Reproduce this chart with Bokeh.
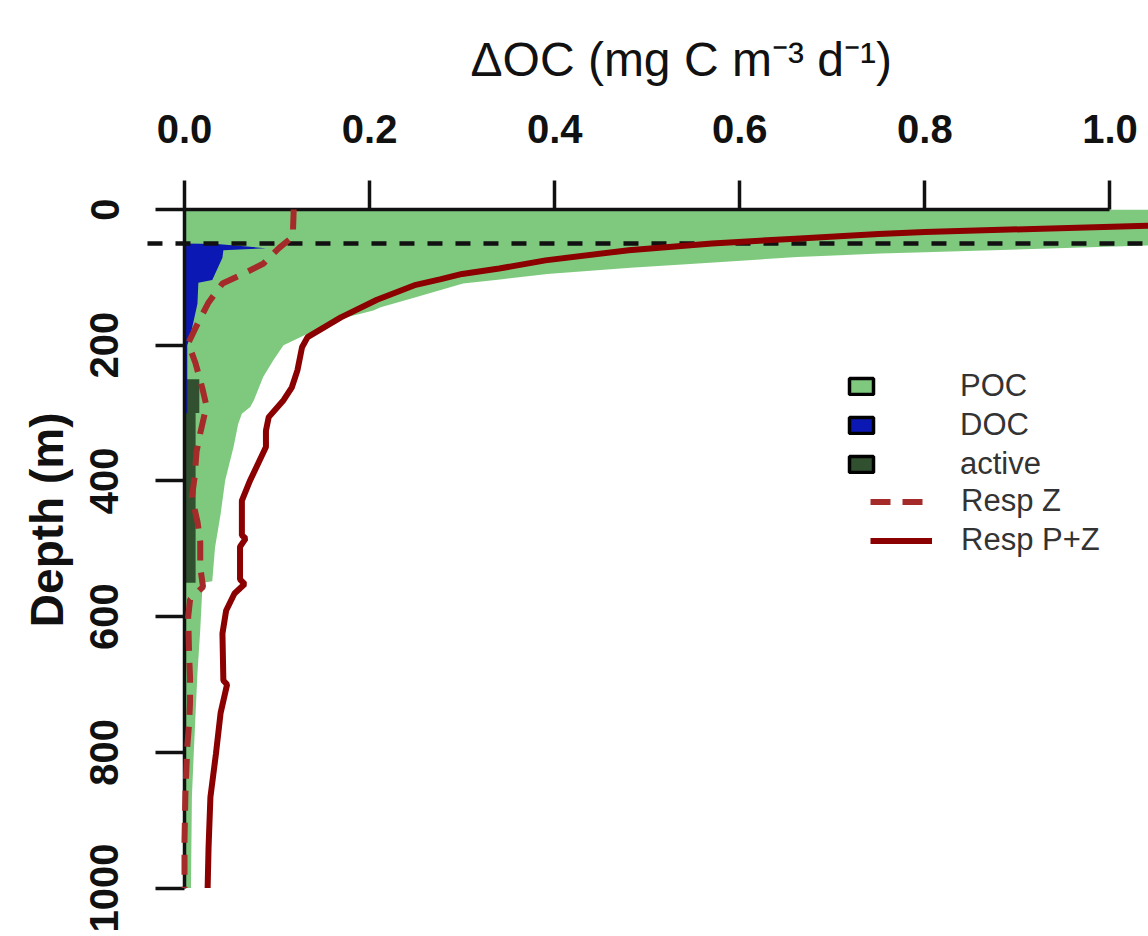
from bokeh.plotting import figure
from bokeh.models import (Range1d, FixedTicker, PrintfTickFormatter, Legend,
                          LegendItem, Title)
from bokeh.embed import file_html
from bokeh.resources import INLINE

# ---- depth profiles of organic-carbon loss (mg C m^-3 d^-1) -----------------
poc_depth = [0, 53, 63, 65, 70, 78, 86, 95, 103, 109, 130, 144, 149, 161, 183,
             200, 222, 247, 281, 291, 301, 316, 350, 399, 449, 498, 548, 550,
             566, 620, 684, 742, 802, 866, 1000]
poc_rate = [1.3, 1.04, 0.80, 0.752, 0.662, 0.572, 0.482, 0.392, 0.341, 0.301,
            0.248, 0.212, 0.204, 0.169, 0.133, 0.107, 0.096, 0.085, 0.075,
            0.071, 0.062, 0.058, 0.053, 0.044, 0.039, 0.033, 0.030, 0.020,
            0.019, 0.017, 0.014, 0.012, 0.010, 0.008, 0.007]

doc_depth = [50, 51, 57, 60, 71, 104, 108, 139, 188, 200, 300, 301]
doc_rate = [0.0, 0.035, 0.088, 0.042, 0.041, 0.030, 0.015, 0.014, 0.006,
            0.003, 0.003, 0.0]

active_depth = [250, 250, 300, 300, 550, 550]
active_rate = [0.0, 0.016, 0.016, 0.012, 0.012, 0.0]

respz_depth = [0, 40, 57, 80, 97, 109, 137, 166, 197, 227, 262, 291, 300, 330,
               357, 394, 424, 460, 490, 527, 556, 575, 600, 657, 690, 726, 757,
               792, 826, 860, 930, 1000]
respz_rate = [0.118, 0.117, 0.102, 0.085, 0.060, 0.041, 0.026, 0.015, 0.004,
              0.012, 0.019, 0.024, 0.022, 0.017, 0.013, 0.011, 0.008, 0.014,
              0.017, 0.017, 0.020, 0.006, 0.004, 0.005, 0.006, 0.006, 0.005,
              0.003, 0.002, 0.001, 0.0, 0.0]

resppz_depth = [5, 15, 24, 33, 36, 43, 50, 60, 75, 87, 95, 103, 111, 133,
                159, 188, 203, 237, 262, 281, 306, 326, 350, 399, 429, 480, 485,
                497, 545, 552, 566, 591, 625, 694, 700, 742, 802, 866, 940, 1000]
resppz_rate = [1.9, 1.35, 1.04, 0.80, 0.75, 0.66, 0.57, 0.48, 0.39, 0.34, 0.30,
               0.276, 0.25, 0.208, 0.169, 0.133, 0.127, 0.122, 0.116,
               0.107, 0.091, 0.088, 0.088, 0.071, 0.062, 0.062, 0.066, 0.060,
               0.060, 0.065, 0.054, 0.045, 0.041, 0.042, 0.046, 0.039, 0.034,
               0.028, 0.026, 0.025]

mixed_layer_depth = 50

x_ticks = [0.0, 0.2, 0.4, 0.6, 0.8, 1.0]
depth_ticks = [0, 200, 400, 600, 800, 1000]

legend_fill_labels = ["POC", "DOC", "active"]
legend_line_labels = ["Resp Z", "Resp P+Z"]

# ---- colours -----------------------------------------------------------------
POC_COL = "#7fc97f"
DOC_COL = "#0c18b4"
ACT_COL = "#31502f"
RESPZ_COL = "#a52a2a"
RESPPZ_COL = "#8b0000"
INK = "#111111"
FONT = "Liberation Sans"

X_END = 1.0416
Y_END = 1062.6

p = figure(width=1148, height=936, output_backend="svg", toolbar_location=None,
           x_range=Range1d(0, X_END), y_range=Range1d(Y_END, 0),
           x_axis_location="above", y_axis_location="left",
           min_border_left=184, min_border_top=209, min_border_right=0,
           min_border_bottom=6)
p.outline_line_color = None
p.xgrid.visible = False
p.ygrid.visible = False
p.background_fill_color = "white"

# ---- filled profiles -----------------------------------------------------------
zeros = lambda n: [0.0] * n
p.harea(x1=zeros(len(poc_depth)), x2=poc_rate, y=poc_depth, fill_color=POC_COL)
p.harea(x1=zeros(len(active_depth)), x2=active_rate, y=active_depth,
        fill_color=ACT_COL)
p.harea(x1=zeros(len(doc_depth)), x2=doc_rate, y=doc_depth, fill_color=DOC_COL)

# ---- mixed-layer depth and respiration lines -----------------------------------
p.line(x=[-0.04, X_END], y=[mixed_layer_depth, mixed_layer_depth],
       line_color=INK, line_width=4.5, line_dash="15 13", level="annotation")
pz_line = p.line(x=resppz_rate, y=resppz_depth, line_color=RESPPZ_COL,
                 line_width=6, level="annotation")
z_line = p.line(x=respz_rate, y=respz_depth, line_color=RESPZ_COL,
                line_width=6, line_dash="20 12", level="annotation")

# ---- axes ----------------------------------------------------------------------
xa = p.xaxis[0]
ya = p.yaxis[0]
xa.ticker = FixedTicker(ticks=x_ticks)
xa.formatter = PrintfTickFormatter(format="%.1f")
xa.bounds = (0, 1.0)
ya.ticker = FixedTicker(ticks=depth_ticks)
ya.bounds = (0, 1000)
for ax in (xa, ya):
    ax.axis_line_color = INK
    ax.axis_line_width = 3.5
    ax.major_tick_line_color = INK
    ax.major_tick_line_width = 3.5
    ax.major_tick_in = 0
    ax.major_tick_out = 29
    ax.minor_tick_line_color = None
    ax.major_label_text_font = FONT
    ax.major_label_text_font_style = "bold"
    ax.major_label_text_font_size = "40px"
    ax.major_label_text_color = INK
xa.major_label_standoff = 38
ya.major_label_orientation = "vertical"
ya.major_label_standoff = 37

# axis titles
p.add_layout(Title(text="ΔOC (mg C m⁻³ d⁻¹)", align="left", offset=286,
                   text_font=FONT, text_font_size="48px",
                   text_font_style="normal", text_color=INK, standoff=52),
             "above")
p.add_layout(Title(text="Depth (m)", align="right", offset=203,
                   text_font=FONT, text_font_size="46px",
                   text_font_style="bold", text_color=INK, standoff=30),
             "left")

# ---- legend --------------------------------------------------------------------
nan = [float("nan")]
fill_keys = [p.quad(left=nan, right=nan, top=nan, bottom=nan, fill_color=c,
                    line_color="black", line_width=3.5)
             for c in (POC_COL, DOC_COL, ACT_COL)]

legend_style = dict(padding=0, margin=0, border_line_color=None,
                    background_fill_alpha=0, label_text_font=FONT,
                    label_text_font_size="31px", label_text_color="#333333",
                    label_height=35, spacing=3)

fills = Legend(items=[LegendItem(label=lab, renderers=[r])
                      for lab, r in zip(legend_fill_labels, fill_keys)],
               location=(662, 448), glyph_width=30, glyph_height=20,
               label_standoff=84, **legend_style)
lines = Legend(items=[LegendItem(label=lab, renderers=[r])
                      for lab, r in zip(legend_line_labels, [z_line, pz_line])],
               location=(686, 372), glyph_width=62, glyph_height=17,
               label_standoff=29, **legend_style)
p.add_layout(fills)
p.add_layout(lines)

open("out.html", "w").write(file_html(p, INLINE))
